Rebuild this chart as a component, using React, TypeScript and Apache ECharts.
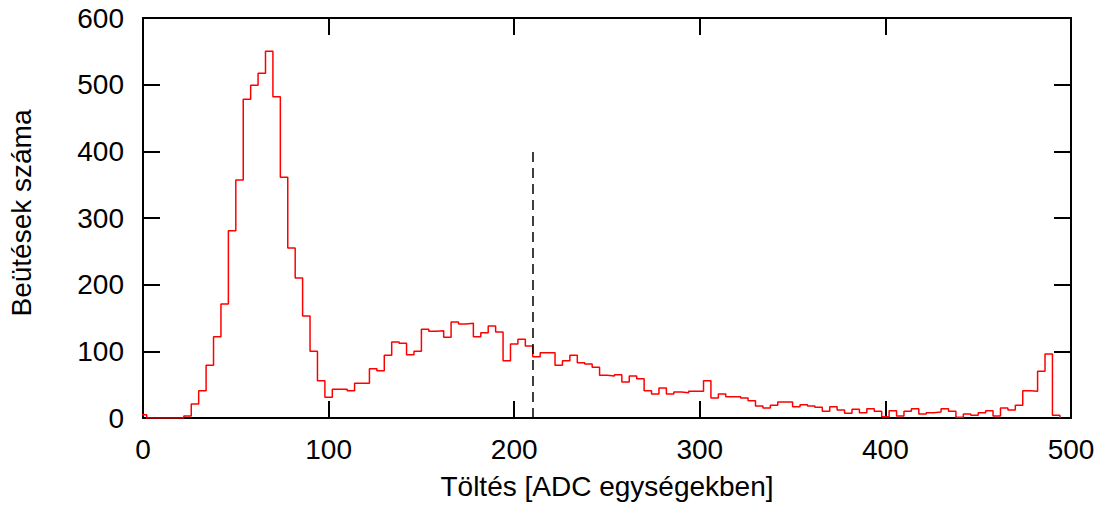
import React, { useEffect, useRef } from "react";
import * as echarts from "echarts";

const BIN_WIDTH = 4;
const BIN_CENTERS: number[] = Array.from({ length: 124 }, (_, i) => i * BIN_WIDTH);
const COUNTS: number[] = [
  5, 0, 0, 0, 0, 0, 3, 21, 41, 79, 122, 171, 281, 357, 478, 499, 517, 550, 482, 361,
  255, 210, 153, 100, 56, 31, 43, 43, 41, 52, 52, 74, 71, 94, 114, 112, 95, 100, 133, 130,
  131, 121, 144, 141, 142, 122, 128, 138, 129, 86, 111, 118, 108, 92, 98, 98, 79, 86, 94, 83,
  81, 76, 64, 63, 65, 54, 63, 59, 41, 36, 45, 36, 39, 38, 40, 40, 56, 30, 36, 32,
  32, 30, 26, 18, 15, 19, 24, 24, 17, 20, 18, 16, 10, 17, 12, 7, 13, 8, 14, 10,
  2, 11, 3, 10, 14, 6, 8, 9, 14, 10, 1, 6, 4, 8, 11, 3, 15, 12, 19, 41,
  40, 70, 96, 4,
];
const X_TICKS = { min: 0, max: 500, interval: 100 };
const Y_TICKS = { min: 0, max: 600, interval: 100 };
const CUT_X = 210;
const CUT_TOP = 400;
const X_TITLE = "Töltés [ADC egységekben]";
const Y_TITLE = "Beütések száma";

export default function App() {
  const ref = useRef<HTMLDivElement>(null);
  useEffect(() => {
    if (!ref.current) return;
    const chart = echarts.init(ref.current, null, { renderer: "svg" });
    const stepData: number[][] = BIN_CENTERS.map((c, i) => [c - BIN_WIDTH / 2, COUNTS[i]]);
    const last = BIN_CENTERS[BIN_CENTERS.length - 1];
    stepData.push([last + BIN_WIDTH / 2, 0]);

    const font = "Liberation Sans, Arial, sans-serif";
    const fs = 28;
    const axisLine = { show: true, onZero: false, lineStyle: { color: "#000", width: 2 } };
    const axisTick = { show: true, inside: true, length: 17, lineStyle: { color: "#000", width: 2 } };

    chart.setOption({
      animation: false,
      backgroundColor: "#fff",
      grid: { left: 143, right: 38, top: 18, bottom: 93, containLabel: false, outerBoundsMode: "none" },
      xAxis: [
        {
          type: "value",
          position: "bottom",
          ...X_TICKS,
          axisLine,
          axisTick,
          splitLine: { show: false },
          axisLabel: { color: "#000", fontSize: fs, fontFamily: font, margin: 17 },
          name: X_TITLE,
          nameLocation: "middle",
          nameGap: 54,
          nameTextStyle: { color: "#000", fontSize: fs, fontFamily: font },
        },
        {
          type: "value",
          position: "top",
          ...X_TICKS,
          axisLine,
          axisTick,
          splitLine: { show: false },
          axisLabel: { show: false },
        },
      ],
      yAxis: [
        {
          type: "value",
          position: "left",
          ...Y_TICKS,
          axisLine,
          axisTick,
          splitLine: { show: false },
          axisLabel: { color: "#000", fontSize: fs, fontFamily: font, margin: 19 },
          name: Y_TITLE,
          nameLocation: "middle",
          nameGap: 108,
          nameTextStyle: { color: "#000", fontSize: fs, fontFamily: font, padding: [0, 0, 0, 10] },
        },
        {
          type: "value",
          position: "right",
          ...Y_TICKS,
          axisLine,
          axisTick,
          splitLine: { show: false },
          axisLabel: { show: false },
        },
      ],
      series: [
        {
          type: "line",
          step: "end",
          xAxisIndex: 0,
          yAxisIndex: 0,
          data: stepData,
          symbol: "none",
          clip: true,
          lineStyle: { color: "#ff0000", width: 1.5 },
          markLine: {
            silent: true,
            symbol: ["none", "none"],
            label: { show: false },
            lineStyle: { color: "#000", width: 1.5, type: [10, 6] },
            data: [[{ coord: [CUT_X, 0] }, { coord: [CUT_X, CUT_TOP] }]],
          },
        },
      ],
    });
    return () => chart.dispose();
  }, []);
  return (
    <div
      ref={ref}
      style={{ position: "fixed", left: 0, top: 0, width: 1109, height: 511, background: "#fff" }}
    />
  );
}
